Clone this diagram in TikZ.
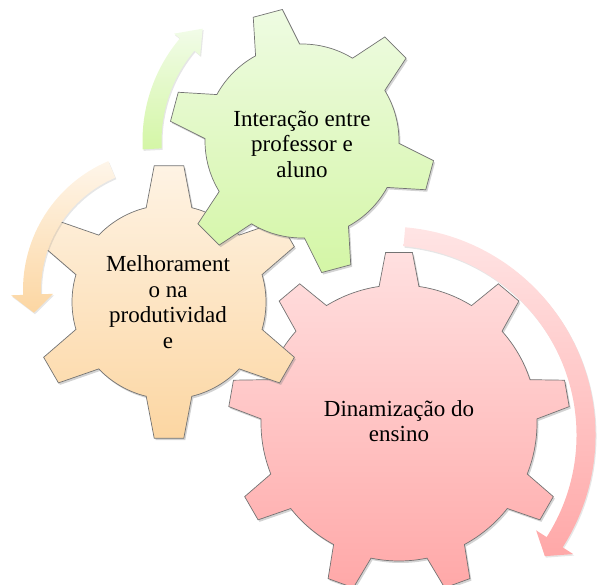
\documentclass[tikz,border=0pt]{standalone}
\usepackage{fontspec}
\setmainfont{Liberation Serif}
\newfontfamily\gearfont{Liberation Serif}
\usetikzlibrary{shadows}

\definecolor{redtop}{RGB}{255,224,224}
\definecolor{redbot}{RGB}{255,168,168}
\definecolor{orangetop}{RGB}{254,243,228}
\definecolor{orangebot}{RGB}{252,214,162}
\definecolor{greentop}{RGB}{238,251,226}
\definecolor{greenbot}{RGB}{212,246,166}

% gear: teeth, first tooth angle, root radius, tip radius, root half angle, tip half angle
\newcommand{\gearoutline}[6]{%
  ({#2-#5}:#3) \foreach \gi in {1,...,#1}{
    -- ({#2+360/#1*(\gi-1)-#6}:#4) -- ({#2+360/#1*(\gi-1)+#6}:#4)
    -- ({#2+360/#1*(\gi-1)+#5}:#3)
    arc[start angle={#2+360/#1*(\gi-1)+#5}, end angle={#2+360/#1*\gi-#5}, radius=#3]
  } -- cycle}

% curved arrow: start angle, head angle, tip angle, radius, half width, wing half width
\newcommand{\circarrow}[6]{%
  ({#1}:{#4+#5}) arc[start angle={#1}, end angle={#2}, radius={#4+#5}]
  -- ({#2}:{#4+#6}) -- ({#3}:{#4}) -- ({#2}:{#4-#6}) -- ({#2}:{#4-#5})
  arc[start angle={#2}, end angle={#1}, radius={#4-#5}] -- cycle}

\tikzset{
  gearbase/.style={draw=black!55, line width=0.7pt,
    drop shadow={opacity=0.35, shadow xshift=1.5pt, shadow yshift=-2pt}},
  redgear/.style={gearbase, top color=redtop, bottom color=redbot},
  orangegear/.style={gearbase, top color=orangetop, bottom color=orangebot},
  greengear/.style={gearbase, top color=greentop, bottom color=greenbot},
  arrowbase/.style={draw=none,
    drop shadow={opacity=0.2, shadow xshift=1pt, shadow yshift=-1.5pt}},
  gearlabel/.style={align=center, inner sep=0pt, font=\gearfont\fontsize{23}{25.5}\selectfont}
}

\begin{document}
\begin{tikzpicture}[x=1pt, y=1pt]
  \useasboundingbox (0,0) rectangle (601,584);
  % gears
  \path[redgear, shift={(399,161)}] \gearoutline{9}{10}{138}{171}{8.3}{4.5};
  \path[orangegear, shift={(169,282)}] \gearoutline{6}{30}{97}{137}{13.6}{6.2};
  \path[greengear, shift={(302,443)}] \gearoutline{6}{45}{97}{133}{13.6}{6.5};
  % arrows
  \path[arrowbase, top color=greentop!80!white, bottom color=greenbot, shift={(302,443)}]
    \circarrow{183}{140}{131.5}{150}{9.5}{17};
  \path[arrowbase, top color=orangetop!80!white, bottom color=orangebot, shift={(163,294)}]
    \circarrow{113}{182}{190}{131}{9}{21};
  \path[arrowbase, top color=redtop!85!white, bottom color=redbot, shift={(387,149)}]
    \circarrow{85}{-32.6}{-37.5}{199}{9.5}{22};
  % labels
  \node(interacao) [gearlabel] at (302,440) {Interação entre\\professor e\\aluno};
  \node(melhoramento) [gearlabel] at (168,282) {Melhorament\\o na\\produtividad\\e};
  \node(dinamizacao) [gearlabel] at (399,163) {Dinamização do\\ensino};
\end{tikzpicture}
\end{document}
